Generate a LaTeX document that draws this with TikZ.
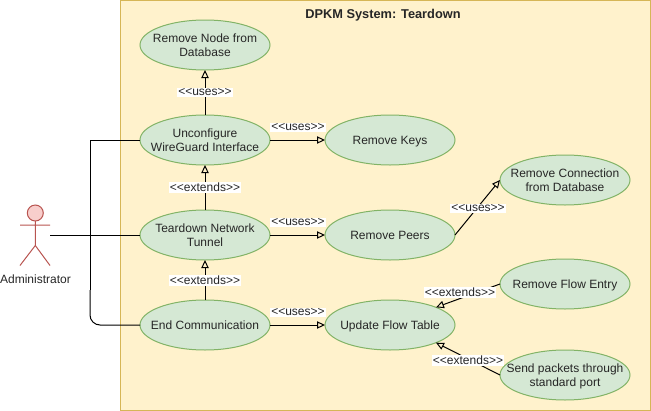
\documentclass[tikz,border=0pt]{standalone}
\usepackage{fontspec}
\setmainfont{Liberation Sans}
\usetikzlibrary{arrows.meta,shapes.geometric}
\definecolor{sysfill}{HTML}{FFF2CC}
\definecolor{sysline}{HTML}{D6B656}
\definecolor{ucfill}{HTML}{D5E8D4}
\definecolor{ucline}{HTML}{82B366}
\definecolor{actfill}{HTML}{F8CECC}
\definecolor{actline}{HTML}{B85450}
\newcommand{\uclabel}[1]{\makebox[0pt]{\raisebox{-0.34em}[0pt][0pt]{\fontsize{9}{10.5}\selectfont\begin{tabular}{@{}c@{}}#1\end{tabular}}}}
\tikzset{
  usecase/.style={ellipse,draw=ucline,fill=ucfill,line width=0.75pt,minimum width=97.5pt,minimum height=37.5pt,inner sep=0pt,outer sep=0pt,text=black!85},
  rel/.style={draw=black,line width=0.75pt,-{Triangle[open,length=6pt,width=5.5pt,line width=0.75pt]}},
  assoc/.style={draw=black,line width=0.75pt},
  tag/.style={fill=white,inner xsep=1pt,inner ysep=1pt,font=\fontsize{9}{11}\selectfont,text=black!85},
  actorpart/.style={draw=actline,line width=0.75pt}
}
\begin{document}
\begin{tikzpicture}[x=0.75pt,y=-0.75pt]
\useasboundingbox (0,0) rectangle (651,411);
\node[draw=sysline,fill=sysfill,line width=0.75pt,minimum width=397.5pt,minimum height=307.5pt,inner sep=0pt,outer sep=0pt] (sys) at (385.5,205.5) {};
\node[font=\fontsize{9.6}{11}\selectfont\bfseries,text=black!85] (title) at (383,15) {DPKM System: Teardown};

\node[usecase] (db) at (205,45) {\uclabel{Remove Node from\\Database}};
\node[usecase] (unc) at (205,140) {\uclabel{Unconfigure\\WireGuard Interface}};
\node[usecase] (tear) at (205,235) {\uclabel{Teardown Network\\Tunnel}};
\node[usecase] (endc) at (205,325) {\uclabel{End Communication}};
\node[usecase] (keys) at (390,140) {\uclabel{Remove Keys}};
\node[usecase] (peers) at (390,235) {\uclabel{Remove Peers}};
\node[usecase] (upd) at (390,325) {\uclabel{Update Flow Table}};
\node[usecase] (conn) at (565,180) {\uclabel{Remove Connection\\from Database}};
\node[usecase] (flow) at (565,284) {\uclabel{Remove Flow Entry}};
\node[usecase] (send) at (565,375) {\uclabel{Send packets through\\standard port}};

% actor
\draw[actorpart,fill=actfill] (35.3,213) circle[radius=6pt];
\draw[actorpart] (35.3,221) -- (35.3,245.5) (20,225) -- (50,225) (20,265.5) -- (35.3,245.5) -- (50,265.5);
\node[font=\fontsize{9}{11}\selectfont,text=black!85] (adm) at (35.5,279) {Administrator};
\coordinate (act) at (50,235);
\coordinate (top) at (90,140);
\coordinate (mid) at (90,290);
\coordinate (bot) at (90,325);

\draw[assoc] (act) -- (tear.west);
\draw[assoc] (unc.west) -- (top) -- (mid);
\draw[assoc,rounded corners=7.5pt] (mid) -- (bot) -- (endc.west);

\draw[rel] (unc.north) -- (db.south);
\draw[rel] (tear.north) -- (unc.south);
\draw[rel] (endc.north) -- (tear.south);
\draw[rel] (unc.east) -- (keys.west);
\draw[rel] (tear.east) -- (peers.west);
\draw[rel] (endc.east) -- (upd.west);
\draw[rel] (peers.east) -- (conn.west);
\draw[rel] (flow.west) -- (upd.north east);
\draw[rel] (send.west) -- (upd.south east);

\node[tag] (t1) at (205,92.5) {<{}<uses>{}>};
\node[tag] (t2) at (205,187.5) {<{}<extends>{}>};
\node[tag] (t3) at (205,280.5) {<{}<extends>{}>};
\node[tag] (t4) at (298,127.5) {<{}<uses>{}>};
\node[tag] (t5) at (298,222.5) {<{}<uses>{}>};
\node[tag] (t6) at (298,312.5) {<{}<uses>{}>};
\node[tag] (t7) at (478,208.5) {<{}<uses>{}>};
\node[tag] (t8) at (460,292.5) {<{}<extends>{}>};
\node[tag] (t9) at (468,360.5) {<{}<extends>{}>};
\end{tikzpicture}
\end{document}
